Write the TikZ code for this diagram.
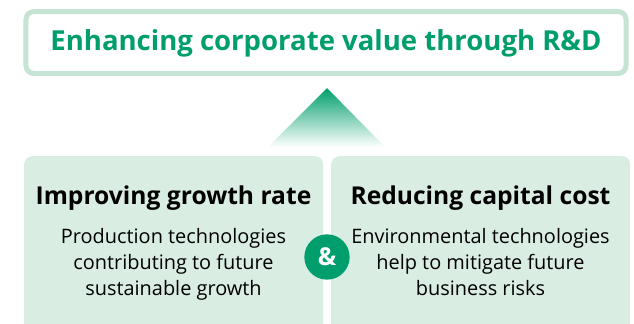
\documentclass[tikz,border=0pt]{standalone}
\usepackage{fontspec}
\setmainfont{Open Sans}
\usepackage{xcolor}
\definecolor{RDGreen}{RGB}{0,158,108}
\definecolor{RDFrame}{RGB}{197,228,212}
\definecolor{RDPale}{RGB}{218,237,227}
\usepackage{tikz}
\usetikzlibrary{positioning}

\begin{document}
\begin{tikzpicture}[x=0.3mm, y=-0.3mm]
\tikzstyle{goalbox}=[draw=RDFrame, line width=1.5mm, fill=white, rounded corners=2.4mm, minimum width=180mm, minimum height=18.6mm, inner sep=0pt]
\tikzstyle{pillar}=[fill=RDPale, rounded corners=2.4mm, minimum width=89.7mm, minimum height=55mm, inner sep=0pt, anchor=north west]
\tikzstyle{headtxt}=[font=\fontsize{21}{24}\selectfont\bfseries, text=black, inner sep=0pt]
\tikzstyle{bodytxt}=[font=\fontsize{17}{22.2}\selectfont, text=black, align=center, inner sep=0pt]
\tikzstyle{andmark}=[circle, fill=RDGreen, text=white, minimum size=13.6mm, inner sep=0pt, font=\fontsize{21}{21}\selectfont\bfseries]

\useasboundingbox (0,0) rectangle (634,323);

% goal at the top
\node[goalbox] (goal) at (326,42.5) {};
\node[font=\fontsize{23.5}{26}\selectfont\bfseries, text=RDGreen] (goaltxt) at ([yshift=-0.4mm]goal.center) {Enhancing corporate value through R\&D};

% rising triangle
\shade[top color=RDGreen, bottom color=white] (327,88) -- (385,147) -- (268,147) -- cycle;

% the two pillars
\node[pillar] (growth) at (24,156) {};
\node[pillar] (capital) at (331,156) {};

\node[headtxt] (growthhd) at (173.5,198.5) {Improving growth rate};
\node[bodytxt, below=5.2mm of growthhd] (growthtx) {Production technologies\\contributing to future\\sustainable growth};

\node[headtxt] (capitalhd) at (480.5,198.5) {Reducing capital cost};
\node[bodytxt, below=5.2mm of capitalhd] (capitaltx) {Environmental technologies\\help to mitigate future\\business risks};

\node[andmark] (amp) at (327,257) {\&};
\end{tikzpicture}
\end{document}
